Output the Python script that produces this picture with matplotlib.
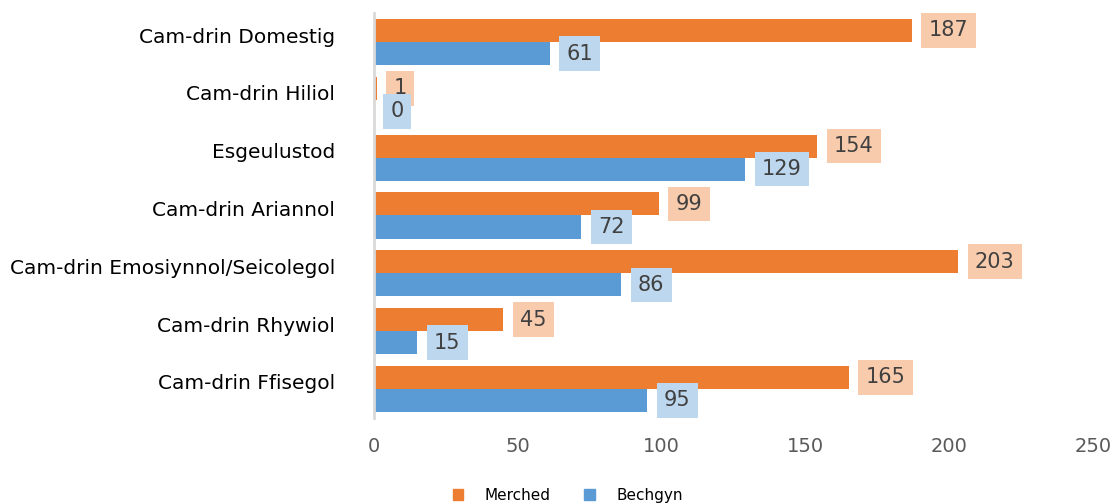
import numpy as np
import matplotlib.pyplot as plt
import matplotlib.transforms as mtransforms
from matplotlib.patches import Patch

# data
categories = ["Cam-drin Domestig", "Cam-drin Hiliol", "Esgeulustod", "Cam-drin Ariannol",
              "Cam-drin Emosiynnol/Seicolegol", "Cam-drin Rhywiol", "Cam-drin Ffisegol"]
merched = [187, 1, 154, 99, 203, 45, 165]
bechgyn = [61, 0, 129, 72, 86, 15, 95]
xticks = [0, 50, 100, 150, 200, 250]

ORANGE = "#ED7D31"
BLUE = "#5B9BD5"
ORANGE_LIGHT = "#F8CBAD"
BLUE_LIGHT = "#BDD7EE"
TEXT = "#404040"

fig = plt.figure(figsize=(11.18, 5.04), dpi=100)
ax = fig.add_axes([0.3345, 0.171, 0.978 - 0.3345, 0.803])

y = np.arange(len(categories))
h = 0.4
ax.barh(y - h / 2, merched, height=h, color=ORANGE, label="Merched")
ax.barh(y + h / 2, bechgyn, height=h, color=BLUE, label="Bechgyn")

# data labels in boxes
for i in range(len(categories)):
    for val, yy, bg in [(merched[i], y[i] - h / 2, ORANGE_LIGHT), (bechgyn[i], y[i] + h / 2, BLUE_LIGHT)]:
        ax.annotate(f"{val}", xy=(val, yy), xytext=(12, 0), textcoords="offset points",
                    ha="left", va="center", fontsize=15, color=TEXT,
                    bbox=dict(boxstyle="square,pad=0.35", fc=bg, ec="none"))

ax.set_ylim(len(categories) - 0.5, -0.5)
ax.set_xlim(0, 250)
ax.set_xticks(xticks)
ax.set_xticklabels([str(t) for t in xticks])
ax.set_yticks(y)
ax.set_yticklabels(categories)
ax.tick_params(axis="x", length=0, labelsize=14, labelcolor="#595959", pad=14)
ax.tick_params(axis="y", length=0, labelsize=14.5, labelcolor="black", pad=28)

# category labels sit a little above the bar-pair centre
offset = mtransforms.ScaledTranslation(0, 5 / 72, fig.dpi_scale_trans)
for lab in ax.get_yticklabels():
    lab.set_transform(lab.get_transform() + offset)

for s in ["top", "right", "bottom"]:
    ax.spines[s].set_visible(False)
ax.spines["left"].set_color("#D9D9D9")
ax.spines["left"].set_linewidth(2)

# legend at bottom
handles = [Patch(color=ORANGE), Patch(color=BLUE)]
fig.legend(handles, ["Merched", "Bechgyn"], loc="lower center", bbox_to_anchor=(0.508, -0.025),
           ncol=2, frameon=False, fontsize=11, handlelength=0.7, handleheight=0.7,
           columnspacing=2.2, handletextpad=1.4)

plt.savefig("out.png", dpi=100)
